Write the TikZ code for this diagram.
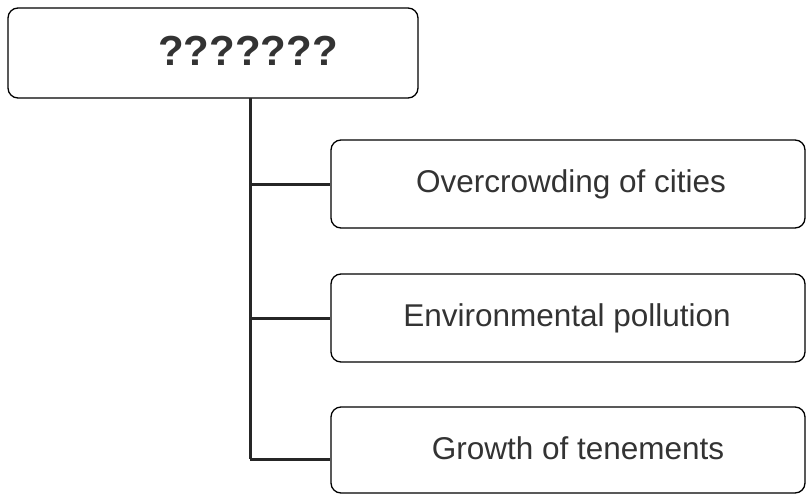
\documentclass[tikz,border=0pt]{standalone}
\usepackage{fontspec}
\setmainfont{Liberation Sans}
\begin{document}
\begin{tikzpicture}[x=1pt,y=-1pt,
  box/.style={draw=black,line width=1.3pt,rounded corners=10pt,inner sep=0pt},
  lbl/.style={font=\fontsize{31.5}{34}\selectfont,text=black!80,inner sep=0pt},
  trunk/.style={draw=black!85,line width=3pt}]
\useasboundingbox (0,0) rectangle (808,495);
\node[box,minimum width=410pt,minimum height=90pt] (top) at (213,53) {};
\node[font=\fontsize{42}{44}\selectfont\bfseries,text=black!80,inner sep=0pt] (toptext) at (248,51) {???????};
\node[box,minimum width=474pt,minimum height=88pt] (b1) at (568,184) {};
\node[lbl] (t1) at (571,184) {Overcrowding of cities};
\node[box,minimum width=474pt,minimum height=88pt] (b2) at (568,318) {};
\node[lbl] (t2) at (567,318) {Environmental pollution};
\node[box,minimum width=474pt,minimum height=86pt] (b3) at (568,450) {};
\node[lbl] (t3) at (578,448) {Growth of tenements};
\coordinate (t0) at (250,98);
\coordinate (tend) at (250,459);
\draw[trunk] (t0) -- (tend);
\draw[trunk] (250,184) -- (b1.west);
\draw[trunk] (250,318) -- (b2.west);
\draw[trunk] (tend) -- (b3.west |- tend);
\end{tikzpicture}
\end{document}
